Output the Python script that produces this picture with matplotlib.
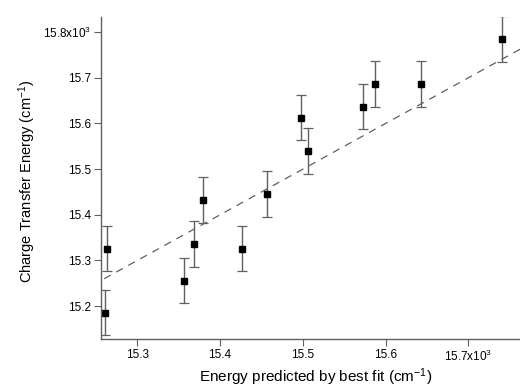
import matplotlib
matplotlib.use("Agg")
import matplotlib.pyplot as plt

# energies, in units of 10^3 cm^-1
predicted = [15.261, 15.264, 15.357, 15.369, 15.379, 15.427, 15.457,
             15.498, 15.506, 15.573, 15.587, 15.643, 15.741]
measured = [15.186, 15.326, 15.256, 15.336, 15.433, 15.326, 15.445,
            15.613, 15.540, 15.637, 15.686, 15.686, 15.785]
err = [0.05] * 13

fit_x = [15.260, 15.765]
fit_y = [15.260, 15.765]

xticks = [15.3, 15.4, 15.5, 15.6, 15.7]
xlabels = ['15.3', '15.4', '15.5', '15.6', r'15.7x10$^3$']
yticks = [15.2, 15.3, 15.4, 15.5, 15.6, 15.7, 15.8]
ylabels = ['15.2', '15.3', '15.4', '15.5', '15.6', '15.7', r'15.8x10$^3$']

plt.rcParams['font.family'] = ['Liberation Sans', 'DejaVu Sans']
plt.rcParams['mathtext.default'] = 'regular'

fig = plt.figure(figsize=(5.2, 3.87), dpi=100)
ax = fig.add_axes([0.194, 0.124, 0.806, 0.833])

gray = '#606060'
ax.plot(fit_x, fit_y, linestyle=(0, (6, 5)), color=gray, linewidth=0.9)
ax.errorbar(predicted, measured, yerr=err, fmt='s', color='black',
            markersize=4.5, ecolor=gray, elinewidth=1.0, capsize=3.5,
            capthick=0.9)

ax.set_xlim(15.256, 15.7625)
ax.set_ylim(15.128, 15.834)
ax.set_xticks(xticks)
ax.set_xticklabels(xlabels)
ax.set_yticks(yticks)
ax.set_yticklabels(ylabels)

for s in ['top', 'right']:
    ax.spines[s].set_visible(False)
for s in ['left', 'bottom']:
    ax.spines[s].set_color(gray)
    ax.spines[s].set_linewidth(1.0)
ax.tick_params(direction='out', length=5, width=0.8, color=gray,
               labelsize=8.5, pad=2)

ax.set_xlabel('Energy predicted by best fit (cm$^{-1}$)', fontsize=11,
              va='top')
ax.xaxis.set_label_coords(0.513, -0.085)
ax.set_ylabel('Charge Transfer Energy (cm$^{-1}$)', fontsize=10.5)
ax.yaxis.set_label_coords(-0.15, 0.49)

fig.savefig('out.png', dpi=100)
